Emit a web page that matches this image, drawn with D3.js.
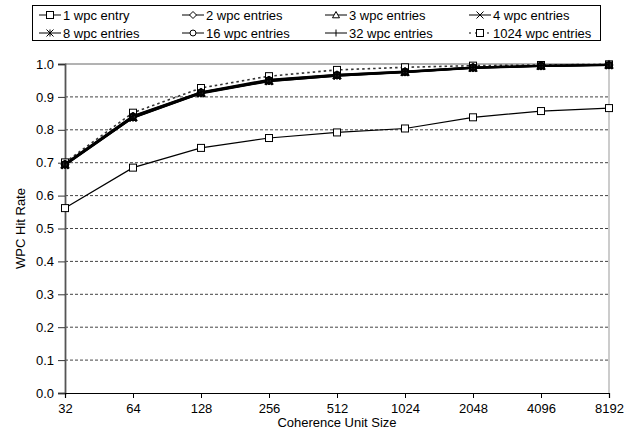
<!DOCTYPE html>
<html><head><meta charset="utf-8">
<script src="https://cdn.jsdelivr.net/npm/d3@7"></script>
<style>body{margin:0;background:#fff}svg{display:block}text{font-family:"Liberation Sans",Arial,sans-serif;fill:#000}</style>
</head><body><svg id="c" width="637" height="442"></svg>
<script>
const categories = ["32","64","128","256","512","1024","2048","4096","8192"];
const seriesNames = ["1 wpc entry","2 wpc entries","3 wpc entries","4 wpc entries","8 wpc entries","16 wpc entries","32 wpc entries","1024 wpc entries"];
const wpc1    = [0.562,0.685,0.745,0.775,0.792,0.804,0.838,0.857,0.866];
const wpc2    = [0.695,0.840,0.913,0.950,0.966,0.976,0.989,0.994,0.997];
const wpc3    = [0.694,0.838,0.912,0.949,0.965,0.975,0.988,0.994,0.997];
const wpc4    = [0.693,0.837,0.911,0.948,0.964,0.975,0.988,0.993,0.996];
const wpc8    = [0.692,0.836,0.910,0.947,0.964,0.974,0.987,0.993,0.996];
const wpc16   = [0.696,0.841,0.914,0.951,0.967,0.977,0.990,0.995,0.997];
const wpc32   = [0.697,0.843,0.915,0.953,0.968,0.978,0.990,0.995,0.998];
const wpc1024 = [0.701,0.852,0.927,0.963,0.982,0.990,0.995,0.997,0.999];
const yTicks = [0,0.1,0.2,0.3,0.4,0.5,0.6,0.7,0.8,0.9,1.0];

const seriesValues = [wpc1,wpc2,wpc3,wpc4,wpc8,wpc16,wpc32,wpc1024];
const markers = ["square","diamond","triangle","x","asterisk","circle","plus","square"];

const svg = d3.select("#c");
const L=65,R=609,T=64,B=393;
const x = d3.scalePoint().domain(categories).range([L,R]);
const y = d3.scaleLinear().domain([0,1]).range([B,T]);

// gridlines
svg.append("g").selectAll("line").data(yTicks.filter(v=>v>0&&v<1)).join("line")
  .attr("x1",L).attr("x2",R).attr("y1",d=>y(d)).attr("y2",d=>y(d))
  .attr("stroke","#444").attr("stroke-width",1).attr("stroke-dasharray","3,2");
// top and right frame
svg.append("line").attr("x1",L).attr("x2",R).attr("y1",y(1)).attr("y2",y(1)).attr("stroke","#666").attr("stroke-width",1);
svg.append("line").attr("x1",R).attr("x2",R).attr("y1",T).attr("y2",B).attr("stroke","#aaa").attr("stroke-width",1.2);

// axes
const yAxis = d3.axisLeft(y).tickValues(yTicks).tickFormat(d3.format(".1f")).tickSize(7).tickPadding(4);
const gy = svg.append("g").attr("transform",`translate(${L},0)`).call(yAxis);
gy.select(".domain").attr("stroke","#555").attr("stroke-width",1.8);
gy.selectAll(".tick line").attr("stroke","#333");
gy.selectAll("text").attr("font-size",13).attr("font-family","Liberation Sans, Arial, sans-serif").attr("fill","#000");

const xAxis = d3.axisBottom(x).tickSize(5).tickPadding(6);
const gx = svg.append("g").attr("transform",`translate(0,${B})`).call(xAxis);
gx.select(".domain").attr("stroke","#000").attr("stroke-width",1.2);
gx.selectAll(".tick line").attr("stroke","#000");
gx.selectAll("text").attr("font-size",13).attr("font-family","Liberation Sans, Arial, sans-serif").attr("fill","#000");

svg.append("text").attr("x",(L+R)/2).attr("y",427).attr("text-anchor","middle").attr("font-size",13).text("Coherence Unit Size");
svg.append("text").attr("transform",`translate(25,${(T+B)/2}) rotate(-90)`).attr("text-anchor","middle").attr("font-size",13).text("WPC Hit Rate");

function drawMarker(g, type, cx, cy, s){
  const h=s/2;
  const st={stroke:"#000","stroke-width":1};
  let el;
  if(type==="square") el=g.append("rect").attr("x",cx-h).attr("y",cy-h).attr("width",s).attr("height",s).attr("fill","#fff");
  else if(type==="diamond") el=g.append("path").attr("d",`M${cx},${cy-h}L${cx+h},${cy}L${cx},${cy+h}L${cx-h},${cy}Z`).attr("fill","#fff");
  else if(type==="triangle") el=g.append("path").attr("d",`M${cx},${cy-h}L${cx+h},${cy+h*0.8}L${cx-h},${cy+h*0.8}Z`).attr("fill","#fff");
  else if(type==="circle") el=g.append("circle").attr("cx",cx).attr("cy",cy).attr("r",h*0.85).attr("fill","#fff");
  else if(type==="x") el=g.append("path").attr("d",`M${cx-h},${cy-h}L${cx+h},${cy+h}M${cx-h},${cy+h}L${cx+h},${cy-h}`).attr("fill","none");
  else if(type==="asterisk") el=g.append("path").attr("d",`M${cx-h},${cy-h}L${cx+h},${cy+h}M${cx-h},${cy+h}L${cx+h},${cy-h}M${cx},${cy-h}L${cx},${cy+h}`).attr("fill","none");
  else if(type==="plus") el=g.append("path").attr("d",`M${cx},${cy-h}L${cx},${cy+h}`).attr("fill","none");
  for(const k in st) el.attr(k,st[k]);
  return el;
}

const line = d3.line().x((d,i)=>x(categories[i])).y(d=>y(d));
const plot = svg.append("g");
// draw series: 1024 dashed first, cluster, then 1 wpc
const order=[7,1,2,3,4,5,6,0];
order.forEach(si=>{
  const vals=seriesValues[si];
  const g=plot.append("g");
  g.append("path").attr("d",line(vals)).attr("fill","none")
   .attr("stroke", si===7?"#333":"#000")
   .attr("stroke-width", si===0?1.2:(si===7?1.6:1.6))
   .attr("stroke-dasharray", si===7?"2.5,3":null);
  vals.forEach((v,i)=>{
    const m=drawMarker(g, markers[si], x(categories[i]), y(v), 7);
    if(si>0&&si<7){ m.attr("stroke-width",1.6); if(markers[si]!=="x"&&markers[si]!=="asterisk"&&markers[si]!=="plus") m.attr("fill","#222"); }
  });
});

// legend
const lg = svg.append("g");
lg.append("rect").attr("x",32.5).attr("y",5.5).attr("width",568).attr("height",35).attr("fill","#fff").attr("stroke","#000").attr("stroke-width",1);
const colX=[39,182,325,469], rowY=[15,33];
seriesNames.forEach((n,i)=>{
  const cx=colX[i%4], cy=rowY[Math.floor(i/4)];
  lg.append("line").attr("x1",cx).attr("x2",cx+22).attr("y1",cy).attr("y2",cy).attr("stroke","#000").attr("stroke-width",1)
    .attr("stroke-dasharray", i===7?"2,4":null);
  drawMarker(lg, markers[i], cx+11, cy, 7);
  lg.append("text").attr("x",cx+24).attr("y",cy+4.5).attr("font-size",13).text(n);
});
</script></body></html>
